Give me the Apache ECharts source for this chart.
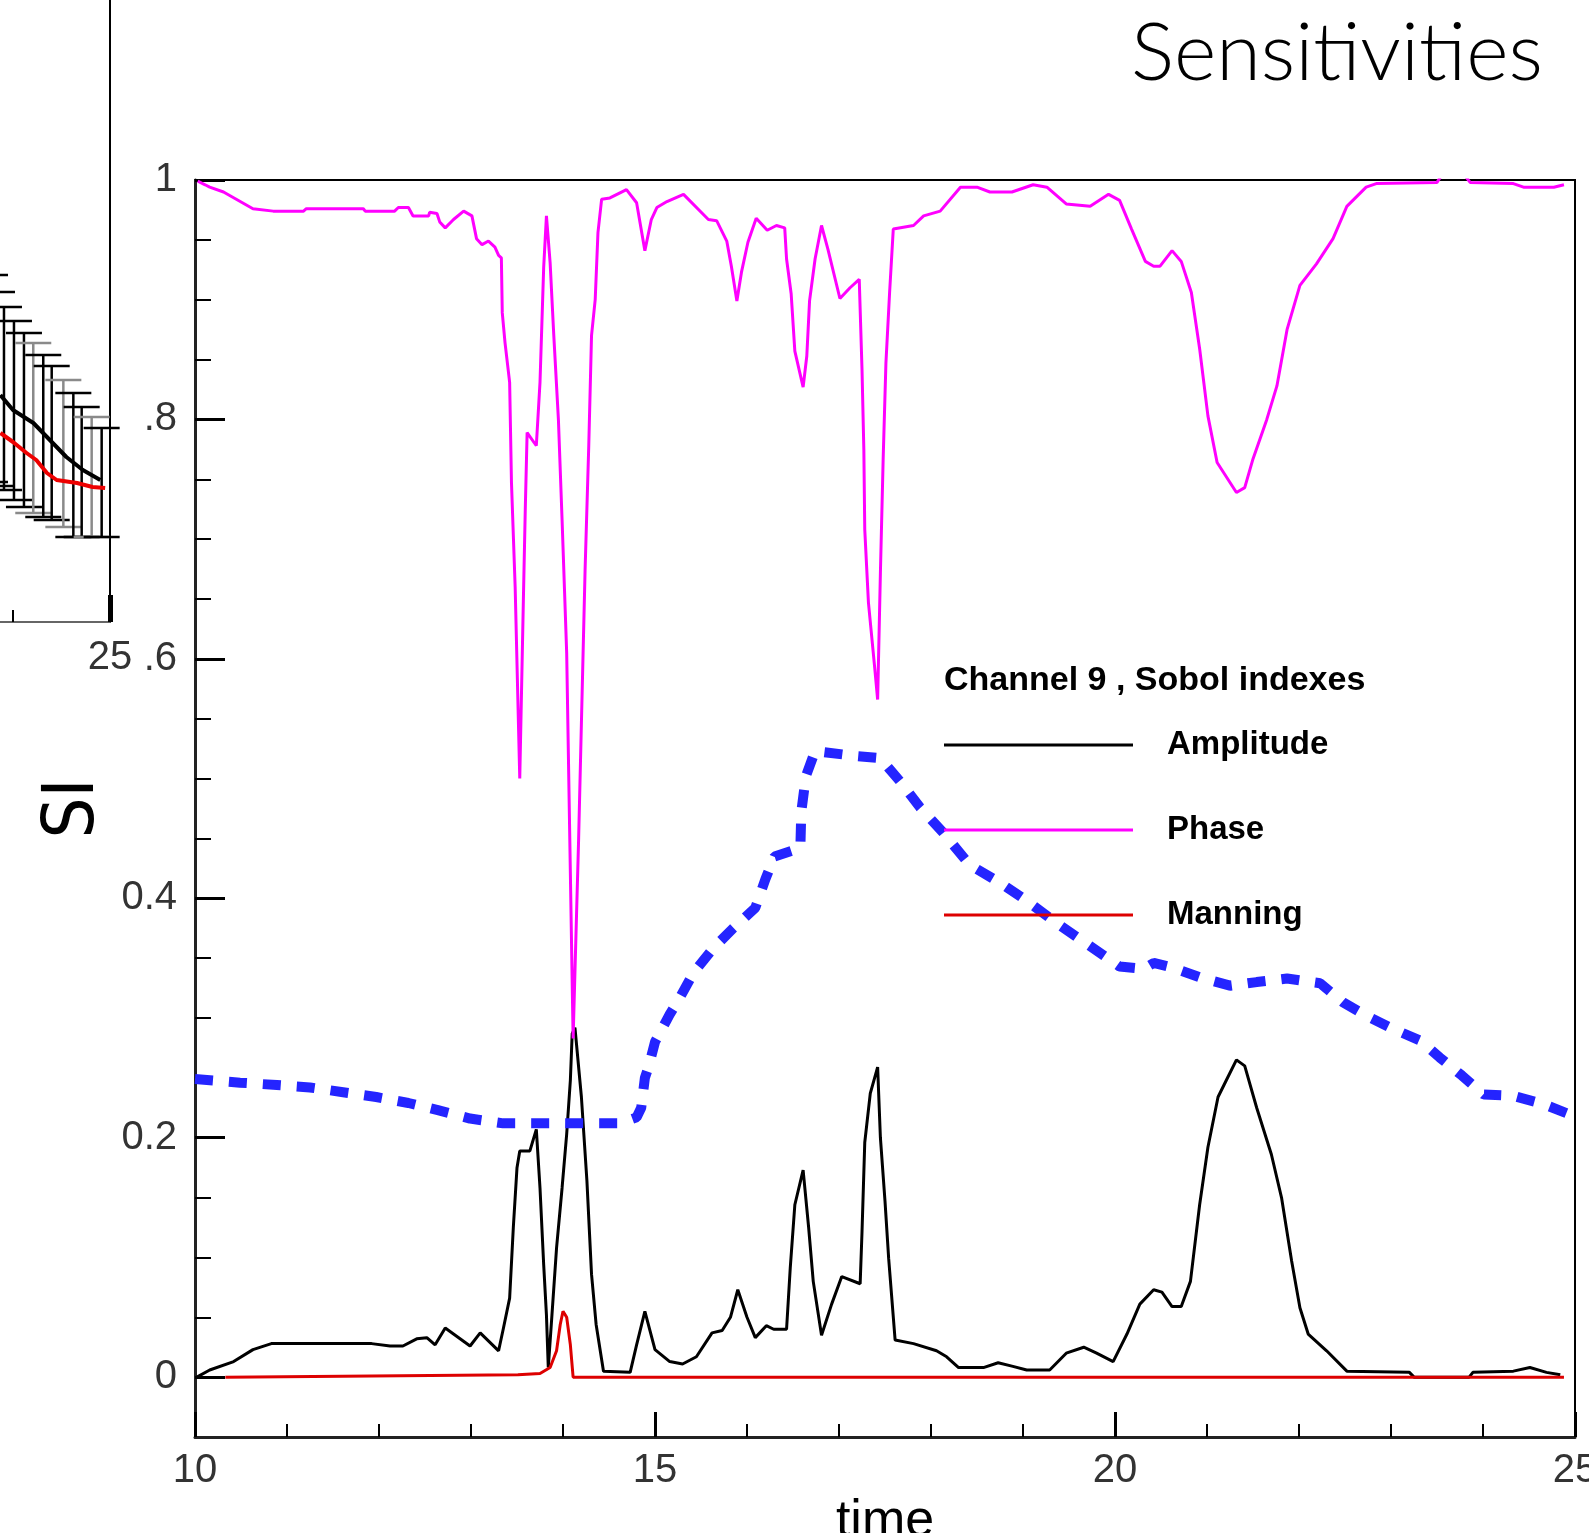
<!DOCTYPE html>
<html lang="en">
<head>
  <meta charset="UTF-8">
  <title>Sensitivities</title>
  <script src="https://cdn.jsdelivr.net/npm/echarts@6/dist/echarts.min.js"></script>
  <style>
    html, body { margin: 0; padding: 0; background: #ffffff; }
    #chart { width: 1589px; height: 1533px; }
  </style>
</head>
<body>
<div id="chart"></div>
<script>
  // main panel: Channel 9, Sobol indexes
  const phaseT = [10.03, 10.11, 10.16, 10.31, 10.63, 10.85, 11.18, 11.21, 11.83, 11.85, 12.17, 12.21, 12.32, 12.37, 12.54, 12.55, 12.63, 12.66, 12.72, 12.81, 12.92, 13.01, 13.06, 13.12, 13.19, 13.26, 13.30, 13.33, 13.34, 13.37, 13.42, 13.44, 13.48, 13.53, 13.57, 13.59, 13.61, 13.71, 13.75, 13.77, 13.79, 13.82, 13.86, 13.90, 13.95, 13.99, 14.04, 14.11, 14.17, 14.24, 14.28, 14.31, 14.35, 14.38, 14.42, 14.51, 14.69, 14.80, 14.89, 14.96, 15.02, 15.13, 15.31, 15.58, 15.67, 15.78, 15.83, 15.89, 15.94, 16.01, 16.10, 16.22, 16.32, 16.41, 16.43, 16.48, 16.52, 16.61, 16.65, 16.68, 16.74, 16.81, 16.88, 17.01, 17.12, 17.22, 17.25, 17.27, 17.28, 17.32, 17.39, 17.42, 17.45, 17.48, 17.51, 17.55, 17.59, 17.81, 17.92, 18.10, 18.32, 18.50, 18.64, 18.88, 19.11, 19.26, 19.47, 19.73, 19.93, 20.05, 20.18, 20.33, 20.42, 20.49, 20.62, 20.72, 20.83, 20.92, 21.01, 21.11, 21.32, 21.41, 21.50, 21.65, 21.76, 21.87, 22.01, 22.19, 22.37, 22.52, 22.73, 22.84, 23.50, 23.55, 23.80, 23.86, 24.33, 24.44, 24.77, 24.88];
  const phaseSI = [0.999, 0.996, 0.994, 0.990, 0.976, 0.974, 0.974, 0.976, 0.976, 0.974, 0.974, 0.977, 0.977, 0.970, 0.970, 0.973, 0.972, 0.965, 0.960, 0.967, 0.974, 0.970, 0.951, 0.946, 0.949, 0.944, 0.937, 0.935, 0.889, 0.864, 0.831, 0.747, 0.660, 0.500, 0.652, 0.725, 0.789, 0.778, 0.831, 0.879, 0.927, 0.970, 0.931, 0.870, 0.800, 0.716, 0.605, 0.283, 0.450, 0.674, 0.778, 0.870, 0.900, 0.956, 0.984, 0.985, 0.992, 0.981, 0.941, 0.967, 0.977, 0.982, 0.988, 0.967, 0.966, 0.949, 0.928, 0.899, 0.923, 0.948, 0.968, 0.958, 0.962, 0.960, 0.934, 0.905, 0.857, 0.827, 0.853, 0.899, 0.934, 0.962, 0.942, 0.901, 0.910, 0.917, 0.842, 0.775, 0.708, 0.647, 0.591, 0.566, 0.672, 0.767, 0.847, 0.906, 0.959, 0.962, 0.970, 0.974, 0.994, 0.994, 0.990, 0.990, 0.996, 0.994, 0.980, 0.978, 0.988, 0.983, 0.959, 0.932, 0.928, 0.928, 0.941, 0.932, 0.906, 0.859, 0.803, 0.764, 0.739, 0.743, 0.767, 0.800, 0.828, 0.875, 0.912, 0.930, 0.951, 0.978, 0.994, 0.997, 0.998, 1.004, 1.004, 0.998, 0.997, 0.994, 0.994, 0.996];

  const ampT = [10.02, 10.16, 10.42, 10.63, 10.83, 11.14, 11.92, 12.12, 12.26, 12.41, 12.52, 12.61, 12.72, 12.99, 13.10, 13.30, 13.35, 13.42, 13.46, 13.50, 13.53, 13.64, 13.71, 13.75, 13.79, 13.82, 13.84, 13.88, 13.93, 13.99, 14.04, 14.08, 14.10, 14.13, 14.20, 14.26, 14.31, 14.36, 14.44, 14.73, 14.80, 14.89, 15.00, 15.16, 15.30, 15.45, 15.62, 15.73, 15.82, 15.90, 16.00, 16.09, 16.21, 16.29, 16.43, 16.47, 16.52, 16.61, 16.67, 16.72, 16.81, 16.92, 17.03, 17.23, 17.25, 17.28, 17.34, 17.42, 17.45, 17.50, 17.54, 17.61, 17.81, 18.06, 18.17, 18.30, 18.57, 18.73, 18.89, 19.04, 19.29, 19.47, 19.66, 19.80, 19.98, 20.13, 20.27, 20.42, 20.51, 20.62, 20.72, 20.82, 20.92, 21.01, 21.12, 21.21, 21.32, 21.41, 21.54, 21.70, 21.81, 21.92, 22.01, 22.10, 22.30, 22.52, 23.20, 23.25, 23.85, 23.89, 24.33, 24.51, 24.69, 24.84];
  const ampSI = [0.000, 0.006, 0.013, 0.023, 0.028, 0.028, 0.028, 0.026, 0.026, 0.032, 0.033, 0.027, 0.041, 0.026, 0.037, 0.022, 0.040, 0.066, 0.125, 0.175, 0.189, 0.189, 0.207, 0.158, 0.094, 0.052, 0.008, 0.052, 0.108, 0.158, 0.203, 0.248, 0.287, 0.292, 0.234, 0.164, 0.086, 0.044, 0.005, 0.004, 0.027, 0.055, 0.023, 0.013, 0.011, 0.017, 0.037, 0.039, 0.050, 0.073, 0.050, 0.033, 0.043, 0.040, 0.040, 0.091, 0.144, 0.173, 0.125, 0.080, 0.035, 0.061, 0.084, 0.078, 0.121, 0.196, 0.237, 0.259, 0.200, 0.147, 0.099, 0.031, 0.028, 0.022, 0.017, 0.008, 0.008, 0.012, 0.009, 0.006, 0.006, 0.020, 0.025, 0.020, 0.013, 0.036, 0.061, 0.073, 0.071, 0.059, 0.059, 0.080, 0.144, 0.192, 0.234, 0.248, 0.265, 0.260, 0.225, 0.186, 0.150, 0.097, 0.058, 0.036, 0.022, 0.005, 0.004, 0.000, 0.000, 0.004, 0.005, 0.008, 0.004, 0.002];

  const manT = [10.33, 13.51, 13.75, 13.86, 13.93, 13.97, 14.00, 14.04, 14.08, 14.11, 24.88];
  const manSI = [0.000, 0.002, 0.003, 0.008, 0.022, 0.044, 0.055, 0.050, 0.027, 0.000, 0.000];

  const blueT = [10.00, 10.49, 10.89, 11.25, 11.61, 11.97, 12.32, 12.64, 12.99, 13.35, 14.62, 14.80, 14.85, 14.89, 14.93, 15.00, 15.16, 15.27, 15.42, 15.63, 15.85, 16.09, 16.20, 16.30, 16.58, 16.59, 16.64, 16.74, 17.16, 17.45, 17.66, 17.88, 18.13, 18.42, 18.75, 19.04, 19.37, 19.73, 20.05, 20.31, 20.42, 20.63, 20.92, 21.25, 21.54, 21.87, 22.23, 22.48, 22.73, 23.02, 23.32, 23.53, 23.77, 24.01, 24.33, 24.66, 24.99];
  const blueSI = [0.249, 0.246, 0.244, 0.242, 0.238, 0.234, 0.229, 0.223, 0.216, 0.212, 0.212, 0.217, 0.225, 0.250, 0.259, 0.280, 0.303, 0.317, 0.338, 0.358, 0.375, 0.392, 0.416, 0.435, 0.442, 0.472, 0.502, 0.523, 0.519, 0.517, 0.498, 0.476, 0.455, 0.428, 0.413, 0.398, 0.379, 0.360, 0.343, 0.341, 0.346, 0.342, 0.334, 0.327, 0.330, 0.333, 0.329, 0.313, 0.302, 0.291, 0.281, 0.267, 0.252, 0.236, 0.235, 0.228, 0.218];

  const yTickValues = [0, 0.2, 0.4, 0.6, 0.8, 1];
  const yTickLabels = ['0', '0.2', '0.4', '.6', '.8', '1'];
  const yMinorTicks = [0.05, 0.1, 0.15, 0.25, 0.3, 0.35, 0.45, 0.5, 0.55, 0.65, 0.7, 0.75, 0.85, 0.9, 0.95];

  // cut-off panel on the left (only its tail near t = 25 is visible)
  const leftT = [23.87, 24.00, 24.21, 24.35, 24.55, 24.72, 24.90];
  const leftBlack = [0.227, 0.212, 0.199, 0.185, 0.165, 0.152, 0.142];
  const leftRedT = [23.87, 24.00, 24.14, 24.24, 24.35, 24.45, 24.66, 24.82, 24.95];
  const leftRed = [0.189, 0.180, 0.169, 0.162, 0.149, 0.142, 0.139, 0.135, 0.134];
  const errX = [23.763, 23.835, 23.907, 24.010, 24.113, 24.209, 24.312, 24.399, 24.519, 24.622, 24.708, 24.811, 24.914];
  const errLow = [0.140, 0.136, 0.132, 0.122, 0.115, 0.109, 0.105, 0.102, 0.095, 0.085, 0.085, 0.085, 0.085];
  const errHigh = [0.347, 0.330, 0.315, 0.301, 0.289, 0.279, 0.267, 0.256, 0.242, 0.229, 0.215, 0.205, 0.194];
  const errGray = [0, 0, 0, 0, 0, 1, 0, 0, 1, 0, 0, 1, 0];

  const zip = (xs, ys) => xs.map((x, i) => [x, ys[i]]);

  const chart = echarts.init(document.getElementById('chart'));

  const labelFont = {
    fontFamily: 'Liberation Sans',
    fontSize: 40,
    color: '#333333'
  };

  const mainRect = { left: 195, top: 180, width: 1380, height: 1257 };

  const option = {
    animation: false,
    backgroundColor: '#ffffff',
    title: [
      {
        text: 'Sensitivities',
        left: 1131,
        top: 13,
        padding: 0,
        textStyle: { fontFamily: 'Lato', fontWeight: 300, fontSize: 81, color: '#000000' }
      },
      {
        text: 'Channel 9 , Sobol indexes',
        left: 944,
        top: 664,
        padding: 0,
        textStyle: { fontFamily: 'Liberation Sans', fontWeight: 'bold', fontSize: 34, color: '#000000' }
      }
    ],
    legend: {
      data: ['Amplitude', 'Phase', 'Manning'],
      orient: 'vertical',
      left: 944,
      top: 725,
      padding: 0,
      icon: 'rect',
      itemWidth: 189,
      itemHeight: 3,
      itemGap: 45,
      selectedMode: false,
      textStyle: {
        fontFamily: 'Liberation Sans',
        fontWeight: 'bold',
        fontSize: 33,
        lineHeight: 24,
        color: '#000000',
        padding: [16, 0, 0, 29]
      }
    },
    grid: [
      Object.assign({ show: true, borderColor: '#000000', borderWidth: 2, outerBoundsMode: 'none' }, mainRect),
      {
        left: -1345, top: -378, width: 1455, height: 1000,
        show: true, borderColor: '#000000', borderWidth: 2,
        outerBoundsMode: 'none'
      },
      // overlay on the main panel, only used for the short y ticks
      Object.assign({ show: false, outerBoundsMode: 'none' }, mainRect)
    ],
    xAxis: [
      {
        type: 'value', gridIndex: 0,
        min: 10, max: 25, interval: 5,
        name: 'time', nameLocation: 'middle', nameGap: 46,
        nameTextStyle: { fontFamily: 'Liberation Sans', fontSize: 52, color: '#000000' },
        axisLine: { onZero: false, lineStyle: { color: '#222222', width: 3 } },
        axisTick: { inside: true, length: 25, lineStyle: { color: '#000000', width: 3 } },
        minorTick: { show: true, splitNumber: 5, length: 13, lineStyle: { color: '#000000', width: 2 } },
        axisLabel: Object.assign({ margin: 14 }, labelFont),
        splitLine: { show: false }
      },
      {
        type: 'value', gridIndex: 1,
        min: 10, max: 25, interval: 5,
        axisLine: { onZero: false, lineStyle: { color: '#666666', width: 2 } },
        axisTick: { inside: true, length: 27, lineStyle: { color: '#000000', width: 5 } },
        minorTick: { show: true, splitNumber: 5, length: 12, lineStyle: { color: '#000000', width: 2 } },
        axisLabel: Object.assign({ margin: 16 }, labelFont),
        splitLine: { show: false }
      },
      {
        type: 'value', gridIndex: 2,
        min: 10, max: 25,
        show: false
      }
    ],
    yAxis: [
      {
        type: 'value', gridIndex: 0, position: 'left',
        min: -0.05, max: 1,
        name: 'SI', nameLocation: 'middle', nameRotate: 90, nameGap: 66,
        nameTextStyle: {
          fontFamily: "'Liberation Sans Narrow', 'DejaVu Sans Condensed', 'Liberation Sans'",
          fontSize: 72, color: '#000000'
        },
        axisLine: { show: true, onZero: false, lineStyle: { color: '#222222', width: 3 } },
        axisTick: { inside: true, length: 30, lineStyle: { color: '#000000', width: 3 }, customValues: yTickValues },
        axisLabel: Object.assign({
          margin: 18,
          customValues: yTickValues,
          formatter: v => {
            const i = yTickValues.findIndex(t => Math.abs(t - v) < 1e-9);
            return i < 0 ? '' : yTickLabels[i];
          }
        }, labelFont),
        splitLine: { show: false }
      },
      {
        type: 'value', gridIndex: 1,
        min: 0, max: 1,
        show: false
      },
      {
        type: 'value', gridIndex: 2, position: 'left',
        min: -0.05, max: 1,
        axisLine: { show: false, onZero: false },
        axisTick: { show: true, inside: true, length: 16, lineStyle: { color: '#000000', width: 2 }, customValues: yMinorTicks },
        axisLabel: { show: false },
        splitLine: { show: false }
      }
    ],
    series: [
      {
        name: 'Amplitude', type: 'line', xAxisIndex: 0, yAxisIndex: 0,
        symbol: 'none', data: zip(ampT, ampSI),
        lineStyle: { color: '#000000', width: 3 }, itemStyle: { color: '#000000' }
      },
      {
        name: 'Manning', type: 'line', xAxisIndex: 0, yAxisIndex: 0,
        symbol: 'none', data: zip(manT, manSI),
        lineStyle: { color: '#dd0000', width: 3 }, itemStyle: { color: '#dd0000' }
      },
      {
        name: 'Phase', type: 'line', xAxisIndex: 0, yAxisIndex: 0,
        symbol: 'none', data: zip(phaseT, phaseSI),
        lineStyle: { color: '#ff00ff', width: 3 }, itemStyle: { color: '#ff00ff' }
      },
      {
        name: 'Variance', type: 'line', xAxisIndex: 0, yAxisIndex: 0,
        symbol: 'none', data: zip(blueT, blueSI),
        lineStyle: { color: '#2424ff', width: 10, type: [18, 16] }, itemStyle: { color: '#2424ff' }
      },
      // left panel
      {
        name: 'Error bars', type: 'custom', xAxisIndex: 1, yAxisIndex: 1,
        clip: false,
        data: errX.map((x, i) => [x, errLow[i], errHigh[i], errGray[i]]),
        encode: { x: 0, y: [1, 2] },
        renderItem: (params, api) => {
          const lo = api.coord([api.value(0), api.value(1)])
            , hi = api.coord([api.value(0), api.value(2)])
            , w = 18
            , style = { stroke: api.value(3) ? '#8a8a8a' : '#000000', lineWidth: 2.5 };
          return {
            type: 'group',
            children: [
              { type: 'line', shape: { x1: lo[0], y1: lo[1], x2: hi[0], y2: hi[1] }, style },
              { type: 'line', shape: { x1: lo[0] - w, y1: lo[1], x2: lo[0] + w, y2: lo[1] }, style },
              { type: 'line', shape: { x1: hi[0] - w, y1: hi[1], x2: hi[0] + w, y2: hi[1] }, style }
            ]
          };
        }
      },
      {
        name: 'Left mean', type: 'line', xAxisIndex: 1, yAxisIndex: 1,
        symbol: 'none', data: zip(leftT, leftBlack),
        lineStyle: { color: '#000000', width: 4 }
      },
      {
        name: 'Left model', type: 'line', xAxisIndex: 1, yAxisIndex: 1,
        symbol: 'none', data: zip(leftRedT, leftRed),
        lineStyle: { color: '#ee0000', width: 4 }
      }
    ]
  };

  chart.setOption(option);
</script>
</body>
</html>
